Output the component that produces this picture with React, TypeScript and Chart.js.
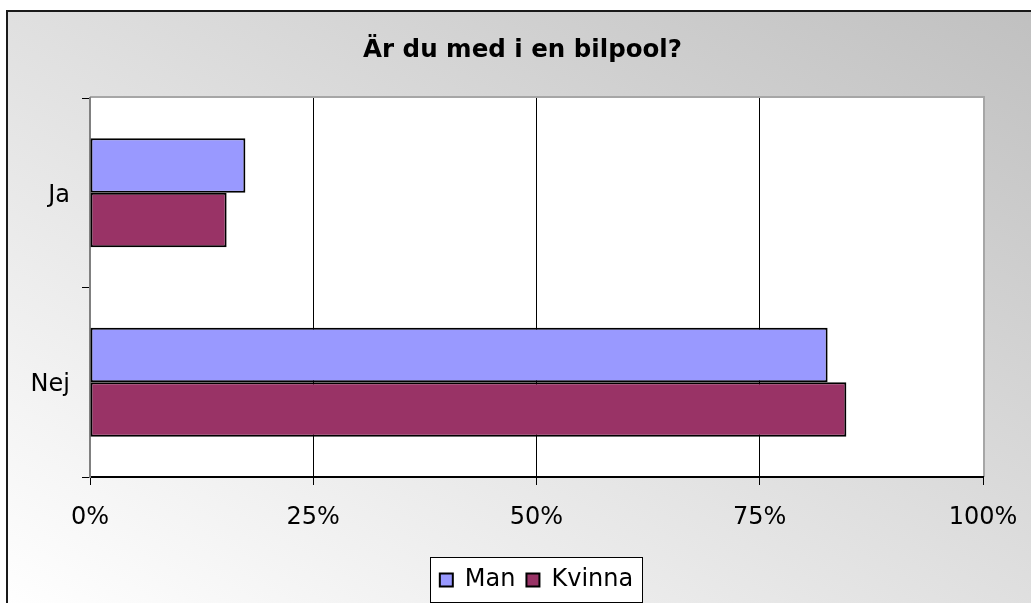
import React, { useEffect, useRef } from 'react';
import { Chart, registerables } from 'chart.js';

Chart.register(...registerables);

const TITLE = 'Är du med i en bilpool?';
const categories = ['Ja', 'Nej'];
const seriesNames = ['Man', 'Kvinna'];
const manValues = [17.4, 82.6];
const kvinnaValues = [15.3, 84.7];
const xTickValues = [0, 25, 50, 75, 100];
const seriesColors = ['#9999FF', '#993366'];

const FONT = "'DejaVu Sans', Verdana, sans-serif";

const framePlugin = {
  id: 'frame',
  beforeDraw(chart: any) {
    const { ctx, width, height, chartArea } = chart;
    ctx.save();
    ctx.fillStyle = '#ffffff';
    ctx.fillRect(0, 0, width, height);
    const bx = 7;
    const by = 11;
    const bw = width + 8 - bx;
    const bh = height + 8 - by;
    ctx.save();
    ctx.translate(bx, by);
    ctx.scale(bw, bh);
    const g = ctx.createLinearGradient(0, 1, 1, 0);
    g.addColorStop(0, '#ffffff');
    g.addColorStop(1, '#c0c0c0');
    ctx.fillStyle = g;
    ctx.fillRect(0, 0, 1, 1);
    ctx.restore();
    ctx.strokeStyle = '#1a1a1a';
    ctx.lineWidth = 2;
    ctx.strokeRect(bx, by, bw, bh);

    // plot area
    ctx.fillStyle = '#ffffff';
    ctx.fillRect(chartArea.left, chartArea.top, chartArea.right - chartArea.left, chartArea.bottom - chartArea.top);
    ctx.strokeStyle = '#a6a6a6';
    ctx.lineWidth = 2;
    ctx.beginPath();
    ctx.moveTo(chartArea.left, chartArea.top - 1);
    ctx.lineTo(chartArea.right + 1, chartArea.top - 1);
    ctx.lineTo(chartArea.right + 1, chartArea.bottom);
    ctx.stroke();

    // legend frame
    const lg = chart.legend;
    if (lg && lg.legendHitBoxes && lg.legendHitBoxes.length) {
      const hb = lg.legendHitBoxes;
      const l = Math.round(Math.min(...hb.map((h: any) => h.left)) - 10);
      const r = Math.round(Math.max(...hb.map((h: any) => h.left + h.width)) + 9);
      const cy = hb[0].top + hb[0].height / 2;
      const t = Math.round(cy - 23);
      const b = Math.round(cy + 22);
      ctx.fillStyle = '#ffffff';
      ctx.fillRect(l, t, r - l, b - t);
      ctx.strokeStyle = '#000000';
      ctx.lineWidth = 1;
      ctx.strokeRect(l + 0.5, t + 0.5, r - l, b - t);
    }
    ctx.restore();
  },
};

export default function App() {
  const ref = useRef<HTMLCanvasElement>(null);

  useEffect(() => {
    if (!ref.current) return;
    const chart = new Chart(ref.current, {
      type: 'bar',
      data: {
        labels: categories,
        datasets: [
          {
            label: seriesNames[0],
            data: manValues,
            backgroundColor: seriesColors[0],
            borderColor: '#000000',
            borderWidth: 2,
            borderSkipped: false,
            categoryPercentage: 0.575,
            barPercentage: 1,
          },
          {
            label: seriesNames[1],
            data: kvinnaValues,
            backgroundColor: seriesColors[1],
            borderColor: '#000000',
            borderWidth: 2,
            borderSkipped: false,
            categoryPercentage: 0.575,
            barPercentage: 1,
          },
        ],
      },
      options: {
        indexAxis: 'y',
        responsive: false,
        animation: false,
        layout: { padding: { left: 14, right: 0, top: 0, bottom: 1 } },
        plugins: {
          title: {
            display: true,
            text: TITLE,
            color: '#000000',
            font: { family: FONT, size: 24.5, weight: 'bold' },
            padding: { top: 36, bottom: 32.6 },
          },
          legend: {
            position: 'bottom',
            fullSize: false,
            labels: {
              color: '#000000',
              font: { family: FONT, size: 24 },
              boxWidth: 13,
              boxHeight: 13,
              padding: 11,
            },
          },
          tooltip: { enabled: false },
        },
        scales: {
          x: {
            type: 'linear',
            min: xTickValues[0],
            max: xTickValues[xTickValues.length - 1],
            afterFit: (s: any) => {
              s.height = 80;
              s.paddingRight = 48;
            },
            afterBuildTicks: (s: any) => {
              s.ticks = xTickValues.map((v) => ({ value: v }));
            },
            ticks: {
              color: '#000000',
              font: { family: FONT, size: 24 },
              padding: 18,
              callback: (v: any) => `${v}%`,
            },
            grid: {
              color: (c: any) =>
                c.tick && c.tick.value === 0 ? 'rgba(0,0,0,0)' : c.tick && c.tick.value === 100 ? '#a6a6a6' : '#000000',
              tickColor: '#000000',
              tickLength: 8,
              lineWidth: 1,
            },
            border: { display: true, color: '#000000', width: 2 },
          },
          y: {
            afterFit: (s: any) => {
              s.width = 76;
            },
            ticks: {
              color: '#000000',
              font: { family: FONT, size: 24 },
              padding: 12,
              labelOffset: 3,
            },
            grid: {
              drawOnChartArea: false,
              color: '#000000',
              tickLength: 8,
              offset: true,
            },
            border: { display: true, color: '#808080', width: 2 },
          },
        },
      },
      plugins: [framePlugin],
    });
    return () => chart.destroy();
  }, []);

  return (
    <div style={{ position: 'absolute', left: 0, top: 0, width: 1031, height: 603 }}>
      <canvas ref={ref} width={1031} height={603} style={{ display: 'block' }} />
    </div>
  );
}
